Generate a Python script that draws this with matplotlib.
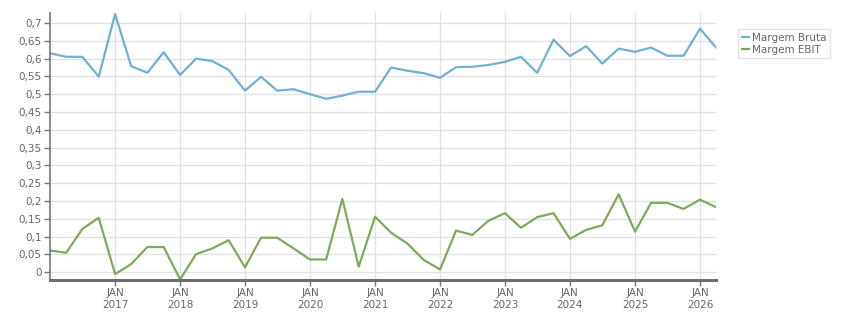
import numpy as np
import pandas as pd
import matplotlib
matplotlib.use('Agg')
import matplotlib.pyplot as plt
import matplotlib.ticker as ticker
import matplotlib.dates as mdates

# trimestres de 2016 T1 ate 2026 T2
datas = pd.date_range('2016-01-01', periods=42, freq='QS')

margem_bruta = [0.615, 0.605, 0.605, 0.549, 0.725, 0.579, 0.560, 0.618,
                0.554, 0.600, 0.593, 0.568, 0.510, 0.549, 0.510, 0.514,
                0.500, 0.487, 0.496, 0.507, 0.507, 0.575, 0.566, 0.559,
                0.546, 0.576, 0.577, 0.582, 0.591, 0.605, 0.560, 0.653,
                0.607, 0.635, 0.586, 0.628, 0.619, 0.631, 0.608, 0.608,
                0.684, 0.631]

margem_ebit = [0.061, 0.055, 0.122, 0.153, -0.005, 0.023, 0.071, 0.071,
               -0.020, 0.051, 0.067, 0.090, 0.014, 0.097, 0.097, 0.067,
               0.036, 0.036, 0.206, 0.016, 0.156, 0.111, 0.081, 0.035,
               0.008, 0.117, 0.105, 0.145, 0.166, 0.125, 0.155, 0.166,
               0.094, 0.119, 0.132, 0.219, 0.114, 0.195, 0.195, 0.178,
               0.204, 0.183]

anos = list(range(2017, 2027))

cor_bruta = '#70b0d4'
cor_ebit = '#7ea95e'
cinza = '#666666'

fig = plt.figure(figsize=(8.51, 3.13), dpi=100)
ax = fig.add_axes([50/851, 33/313, 666/851, 267/313])

ax.plot(datas, margem_bruta, color=cor_bruta, lw=1.6, label='Margem Bruta')
ax.plot(datas, margem_ebit, color=cor_ebit, lw=1.6, label='Margem EBIT')

ax.set_xlim(datas[0], datas[-1])
ax.set_ylim(-0.0216, 0.728)

ax.yaxis.set_major_locator(ticker.MultipleLocator(0.05))
ax.yaxis.set_major_formatter(ticker.FuncFormatter(
    lambda v, pos: ('%g' % round(v, 2)).replace('.', ',')))

ticks_x = [pd.Timestamp('%d-01-01' % a) for a in anos]
ax.set_xticks(ticks_x)
ax.set_xticklabels(['JAN\n%d' % a for a in anos])

ax.grid(True, color='#e2e2e2', lw=1)
ax.set_axisbelow(True)

for s in ['top', 'right']:
    ax.spines[s].set_visible(False)
ax.spines['left'].set_color('#777777')
ax.spines['left'].set_linewidth(1.2)
ax.spines['bottom'].set_color('#6e6e6e')
ax.spines['bottom'].set_linewidth(2.2)

ax.tick_params(axis='y', colors='#777777', labelcolor=cinza, labelsize=7.5,
               length=4, width=1, pad=2)
ax.tick_params(axis='x', colors='#777777', labelcolor=cinza, labelsize=7.5,
               length=4, width=1, pad=2)
for t in ax.get_xticklabels():
    t.set_linespacing(1.25)

leg = fig.legend(loc='upper left', bbox_to_anchor=(738/851, 1 - 29/313),
                 fontsize=7.5, frameon=True, fancybox=False, handlelength=0.7,
                 handletextpad=0.3, borderpad=0.35, labelspacing=0.2,
                 borderaxespad=0)
leg.get_frame().set_edgecolor('#dddddd')
leg.get_frame().set_linewidth(1)
for t in leg.get_texts():
    t.set_color(cinza)

fig.savefig('out.png', dpi=100)
